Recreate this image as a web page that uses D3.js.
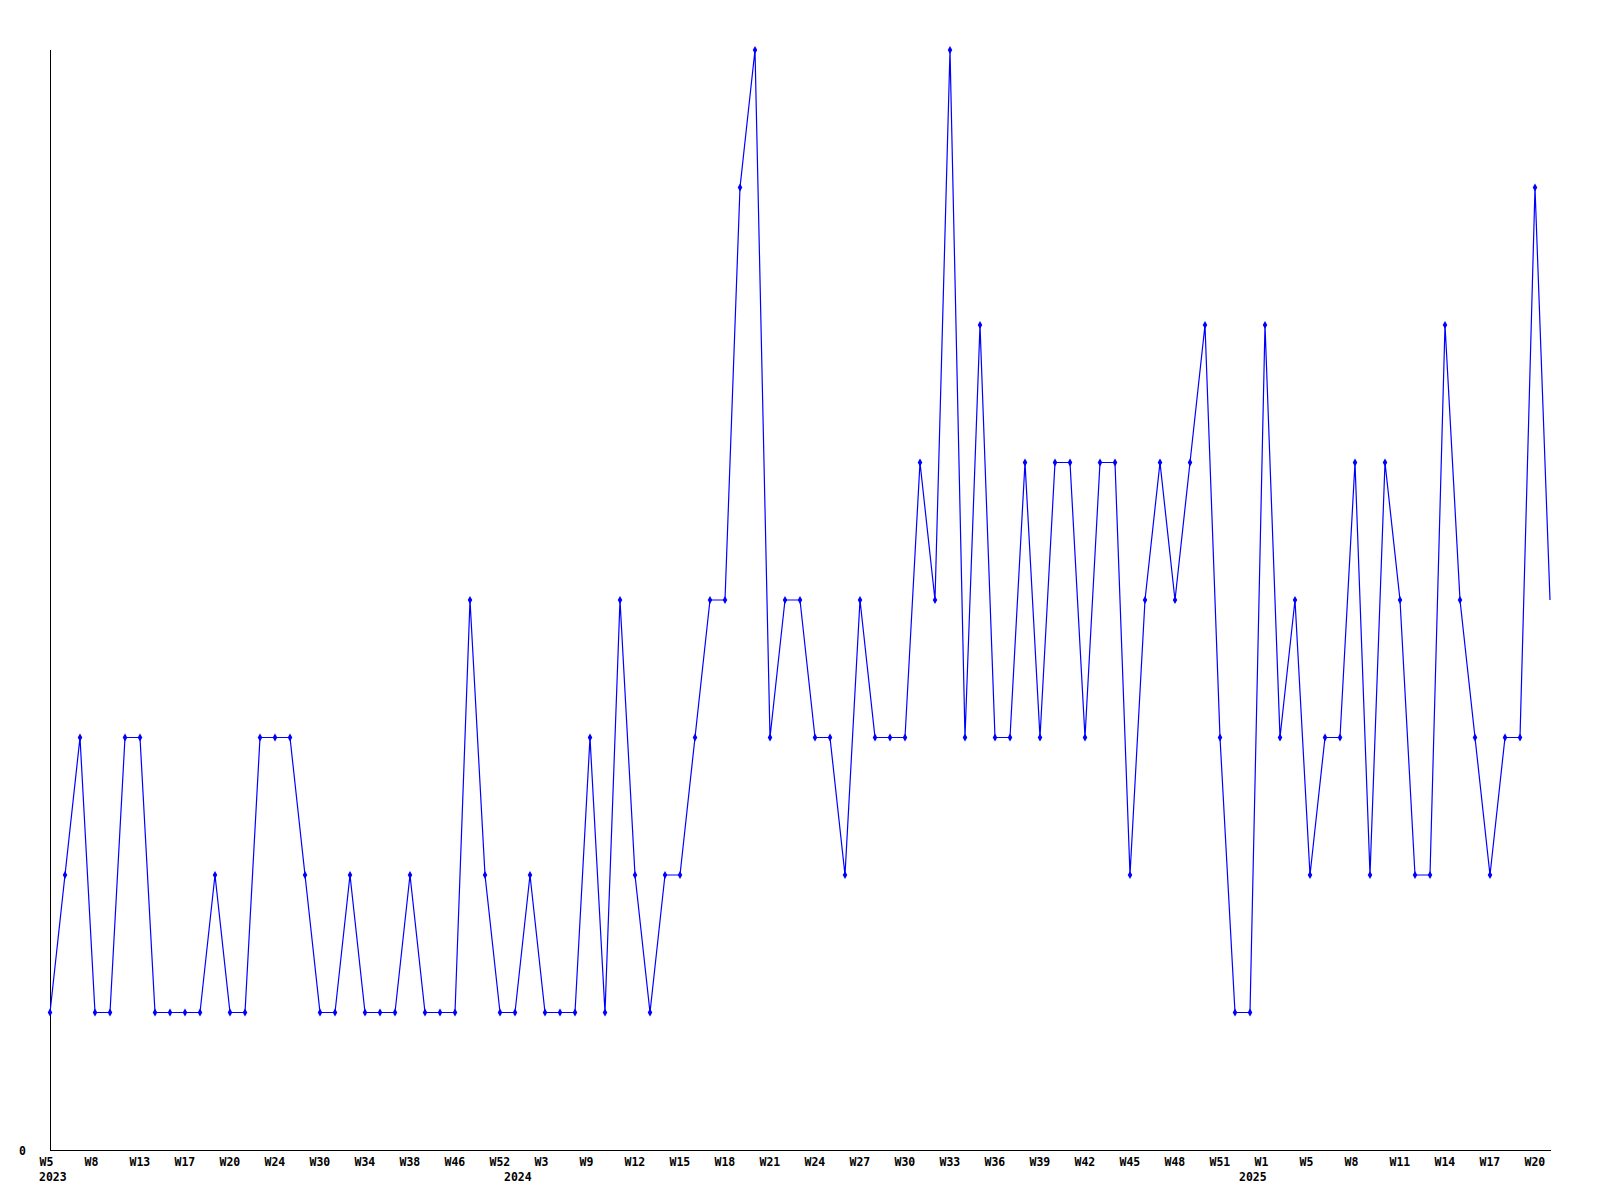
<!DOCTYPE html>
<html>
<head>
<meta charset="utf-8">
<script src="https://cdn.jsdelivr.net/npm/d3@7"></script>
<style>
  html, body { margin: 0; padding: 0; background: #fff; }
  svg { display: block; }
  .lbl { font-family: "DejaVu Sans Mono", "Liberation Mono", monospace; font-weight: bold; font-size: 11.5px; fill: #000; }
</style>
</head>
<body>
<svg id="chart" width="1600" height="1200"></svg>
<script>
// ---- data ----
const values = [
  1,2,3,1,1,3,3,1,1,1,
  1,2,1,1,3,3,3,2,1,1,
  2,1,1,1,2,1,1,1,4,2,
  1,1,2,1,1,1,3,1,4,2,
  1,2,2,3,4,4,7,8,3,4,
  4,3,3,2,4,3,3,3,5,4,
  8,3,6,3,3,5,3,5,5,3,
  5,5,2,4,5,4,5,6,3,1,
  1,6,3,4,2,3,3,5,2,5,
  4,2,2,6,4,3,2,3,3,7,
  4
];
const tickLabels = [
  "W5","W8","W13","W17","W20","W24","W30","W34","W38","W46","W52",
  "W3","W9","W12","W15","W18","W21","W24","W27","W30","W33","W36","W39",
  "W42","W45","W48","W51","W1","W5","W8","W11","W14","W17","W20"
];
const tickIndex = tickLabels.map((d, i) => i * 3);
const yearLabels = ["2023", "2024", "2025"];
const yearIndex = [0, 31, 80];
const yTicks = [0];

// ---- layout ----
const mLeft = 50, mRight = 1550, mTop = 50, mBottom = 1150;
const svg = d3.select("#chart");

const x = d3.scaleLinear().domain([0, values.length - 1]).range([mLeft, mRight]);
const y = d3.scaleLinear().domain([0, 8]).range([mBottom, mTop]);

// X axis
const xAxis = d3.axisBottom(x)
  .tickValues(tickIndex)
  .tickSize(0)
  .tickPadding(0)
  .tickFormat((d, i) => tickLabels[i]);
const gx = svg.append("g").attr("transform", `translate(0,${mBottom})`).call(xAxis);
gx.select(".domain").attr("stroke", "#000").attr("shape-rendering", "crispEdges")
  .attr("d", `M${mLeft},0.5H${mRight + 1}`);
gx.selectAll(".tick text")
  .attr("class", "lbl")
  .attr("text-anchor", "start")
  .attr("x", -11)
  .attr("y", 16)
  .attr("dy", null);

// Year labels
svg.append("g").selectAll("text").data(yearLabels).join("text")
  .attr("class", "lbl")
  .attr("x", (d, i) => x(yearIndex[i]) - 11)
  .attr("y", mBottom + 31)
  .text(d => d);

// Y axis
const yAxis = d3.axisLeft(y).tickValues(yTicks).tickSize(0).tickPadding(24).tickFormat(d3.format("d"));
const gy = svg.append("g").attr("transform", `translate(${mLeft},0)`).call(yAxis);
gy.select(".domain").attr("stroke", "#000").attr("shape-rendering", "crispEdges")
  .attr("d", `M0.5,${mTop}V${mBottom}`);
gy.selectAll(".tick text").attr("class", "lbl").attr("dy", "0.35em");

// Line
const line = d3.line().x((d, i) => x(i)).y(d => y(d));
svg.append("path")
  .datum(values)
  .attr("fill", "none")
  .attr("stroke", "#0000ff")
  .attr("stroke-width", 1.2)
  .attr("d", line);

// Markers (all but the last point)
const diamond = d3.symbol().type(d3.symbolDiamond).size(18);
svg.append("g").selectAll("path").data(values.slice(0, values.length - 1)).join("path")
  .attr("transform", (d, i) => `translate(${x(i)},${y(d)})`)
  .attr("d", diamond)
  .attr("fill", "#0000ff");
</script>
</body>
</html>
